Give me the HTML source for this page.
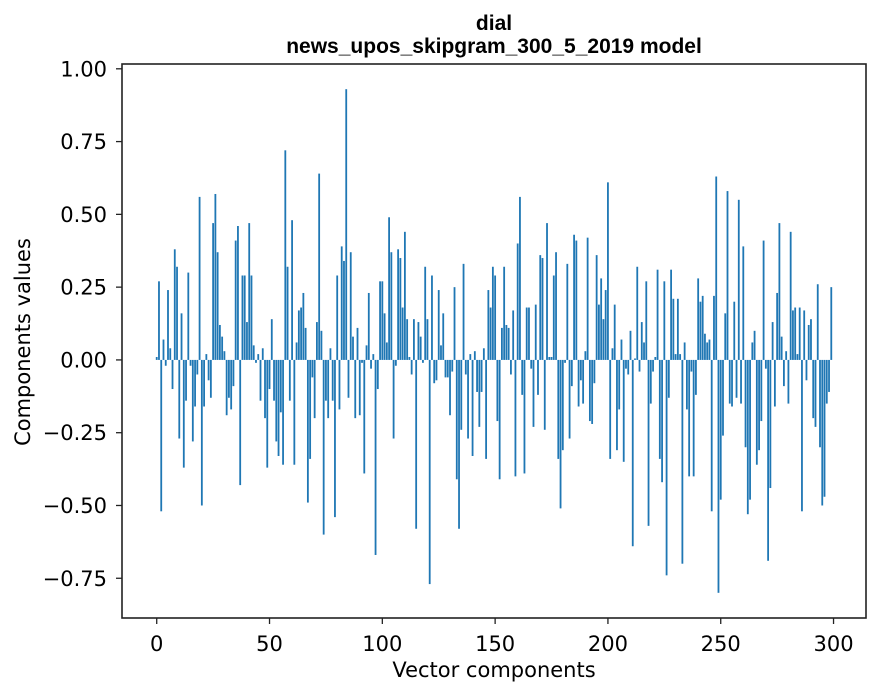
<!DOCTYPE html>
<html><head><meta charset="utf-8"><style>
html,body{margin:0;padding:0;background:#fff;}
svg{display:block;}
text{font-family:"DejaVu Sans","Liberation Sans",sans-serif;fill:#000;}
.ttl{font-family:"Liberation Sans",sans-serif;font-weight:bold;}
</style></head><body>
<svg id="chart" width="880" height="696" viewBox="0 0 880 696" xmlns="http://www.w3.org/2000/svg">
<rect width="880" height="696" fill="#fff"/>
<text class="ttl" x="494" y="30" font-size="21" text-anchor="middle">dial</text>
<text class="ttl" x="494" y="53" font-size="21" text-anchor="middle">news_upos_skipgram_300_5_2019 model</text>
<g id="bars"></g>
<g id="axes"></g>
<text x="494" y="677" font-size="21" text-anchor="middle">Vector components</text>
<text x="0" y="0" font-size="21" text-anchor="middle" transform="translate(30,342) rotate(-90)">Components values</text>
</svg>
<script>
const values = [
.01,.27,-.52,.07,-.02,.24,.04,-.10,.38,.32,
-.27,.16,-.37,-.14,.30,-.02,-.28,-.16,-.05,.56,
-.50,-.16,.02,-.07,-.13,.47,.57,.37,.12,.08,
.03,-.19,-.13,-.17,-.09,.41,.46,-.43,.29,.29,
.13,.47,.29,.05,-.01,.02,-.14,.04,-.20,-.37,
-.10,.14,-.14,-.28,-.33,-.18,-.36,.72,.32,-.14,
.48,-.36,.06,.17,.18,.23,.11,-.49,-.34,-.06,
-.20,.13,.64,.10,-.60,-.14,-.20,.04,-.14,-.54,
.29,-.17,.39,.34,.93,-.13,.37,.08,-.20,.11,
-.19,-.01,-.39,.05,.23,-.03,.02,-.67,-.10,.27,
.27,.16,.06,.49,.37,-.27,-.02,.38,.35,.18,
.44,.14,.01,-.05,.14,-.58,.13,.08,-.01,.32,
.14,-.77,.29,-.08,-.07,.24,.05,.16,-.06,-.06,
-.19,-.04,.25,-.41,-.58,-.24,.33,-.05,-.27,.02,
-.33,.03,-.11,-.23,-.11,.04,-.34,.24,.18,.32,
.29,-.21,-.41,.11,.32,.12,.11,-.05,.17,-.40,
.40,.56,-.12,-.39,.18,.18,-.03,-.23,.19,-.12,
.36,.35,-.24,.47,.01,.01,.29,.37,-.34,-.51,
-.31,-.01,.33,-.27,-.09,.43,.41,-.16,-.07,-.15,
.03,.42,-.21,-.22,-.08,.36,.19,.28,.14,.24,
.61,-.34,.04,.19,-.31,-.17,.07,-.35,-.03,-.05,
.10,-.64,.005,.32,-.04,.13,.06,.27,-.57,-.15,
-.04,.01,.31,-.34,-.42,.27,-.74,-.13,.31,.21,
.02,.21,.02,-.70,.06,-.17,-.40,-.04,-.40,-.12,
.28,.20,.22,.09,.06,.07,-.52,.22,.63,-.80,
-.48,-.26,.16,.58,-.15,-.16,.20,-.13,.55,-.15,
.39,-.30,-.53,-.48,.06,.10,-.36,-.31,-.21,.41,
-.03,-.69,-.44,.13,-.16,.23,.47,.08,-.09,.03,
-.15,.44,.17,.18,.02,.18,-.52,.17,-.07,.12,
.14,-.20,-.23,.26,-.30,-.50,-.47,-.15,-.11,.25
];
const xTicks = [0,50,100,150,200,250,300];
const yTicks = [-0.75,-0.5,-0.25,0,0.25,0.5,0.75,1.0];
const yTickLabels = ["\u22120.75","\u22120.50","\u22120.25","0.00","0.25","0.50","0.75","1.00"];

const NS="http://www.w3.org/2000/svg";
const L=122,R=866,T=64,B=618;
const n=values.length;
const xmin=-0.4-0.05*(n-1+0.8), xmax=(n-1)+0.4+0.05*(n-1+0.8);
const vmin=Math.min(0,...values), vmax=Math.max(0,...values);
const ymin=vmin-0.05*(vmax-vmin), ymax=vmax+0.05*(vmax-vmin);
const xs=v=>L+(v-xmin)/(xmax-xmin)*(R-L);
const ys=v=>B-(v-ymin)/(ymax-ymin)*(B-T);

const gb=document.getElementById('bars');
values.forEach((v,i)=>{
  const r=document.createElementNS(NS,'rect');
  const x0=xs(i-0.4),x1=xs(i+0.4);
  const y0=ys(Math.max(v,0)),y1=ys(Math.min(v,0));
  r.setAttribute('x',x0);r.setAttribute('width',x1-x0);
  r.setAttribute('y',y0);r.setAttribute('height',Math.max(y1-y0,0.01));
  r.setAttribute('fill','#1f77b4');
  
  
  gb.appendChild(r);
});

const ga=document.getElementById('axes');
function el(tag,attrs,txt){const e=document.createElementNS(NS,tag);for(const k in attrs)e.setAttribute(k,attrs[k]);if(txt!==undefined)e.textContent=txt;ga.appendChild(e);return e;}
const frame=el('rect',{x:L,y:T,width:R-L,height:B-T,fill:'none',stroke:'#222','stroke-width':1.6});


xTicks.forEach(t=>{
  const x=xs(t);
  const tk=el('line',{x1:x,x2:x,y1:B,y2:B+6,stroke:'#222','stroke-width':1.3});
  
  
  const lb=el('text',{x:x,y:651,'font-size':21,'text-anchor':'middle'},String(t));
  
  
});
yTicks.forEach((t,i)=>{
  const y=ys(t);
  const tk=el('line',{x1:L-6,x2:L,y1:y,y2:y,stroke:'#222','stroke-width':1.3});
  
  
  const lb=el('text',{x:L-15,y:y+7.5,'font-size':21,'text-anchor':'end'},yTickLabels[i]);
  
  
});
</script>
</body></html>
